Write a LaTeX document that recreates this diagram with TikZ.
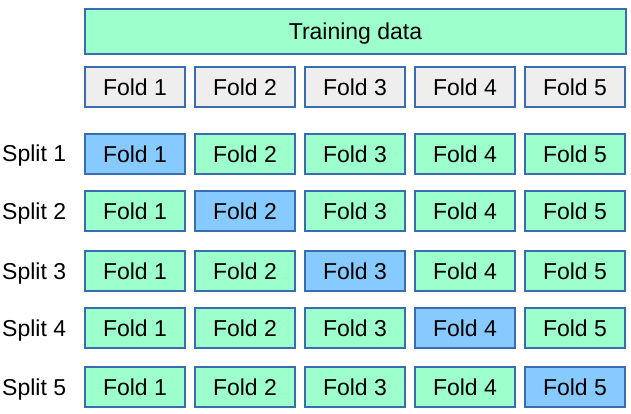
\documentclass[tikz,border=0pt]{standalone}
\usepackage{fontspec}
\setmainfont{Liberation Sans}
\usetikzlibrary{positioning}
\definecolor{trainfill}{HTML}{9CFFCC}
\definecolor{testfill}{HTML}{86CAFF}
\definecolor{plainfill}{HTML}{EEEEEE}
\definecolor{foldline}{HTML}{3A6DB0}

\begin{document}
\begin{tikzpicture}[
        x=1pt, y=-1pt,
        fold/.style={draw=foldline, line width=1.1pt, minimum width=100pt, minimum height=40pt, inner sep=0pt, text depth=0pt, font=\fontsize{23}{27}\selectfont},
        trainfold/.style={fold, fill=trainfill},
        plainfold/.style={fold, fill=plainfill},
        splitlabel/.style={anchor=base west, inner sep=0pt, font=\fontsize{23}{27}\selectfont},
    ]
        \useasboundingbox (0,0) rectangle (631,414);
        % Whole training set
        \node[trainfold, minimum width=541pt, minimum height=45pt] (train) at (355.5,31.5) {Training data};
        % Header folds
        \foreach \c in {1,...,5}
            \node[plainfold] (h\c) at (25+110*\c,87) {Fold \c};
        % One row per split, the test fold in blue
        \foreach \r/\y in {1/154, 2/211, 3/271, 4/328, 5/387} {
            \node[splitlabel] (s\r) at (2,\y+8) {Split \r};
            \foreach \c in {1,...,5} {
                \ifnum\c=\r \def\foldfill{testfill}\else \def\foldfill{trainfill}\fi
                \node[fold, fill=\foldfill] (f\r\c) at (25+110*\c,\y) {Fold \c};
            }
        }
    \end{tikzpicture}
\end{document}
